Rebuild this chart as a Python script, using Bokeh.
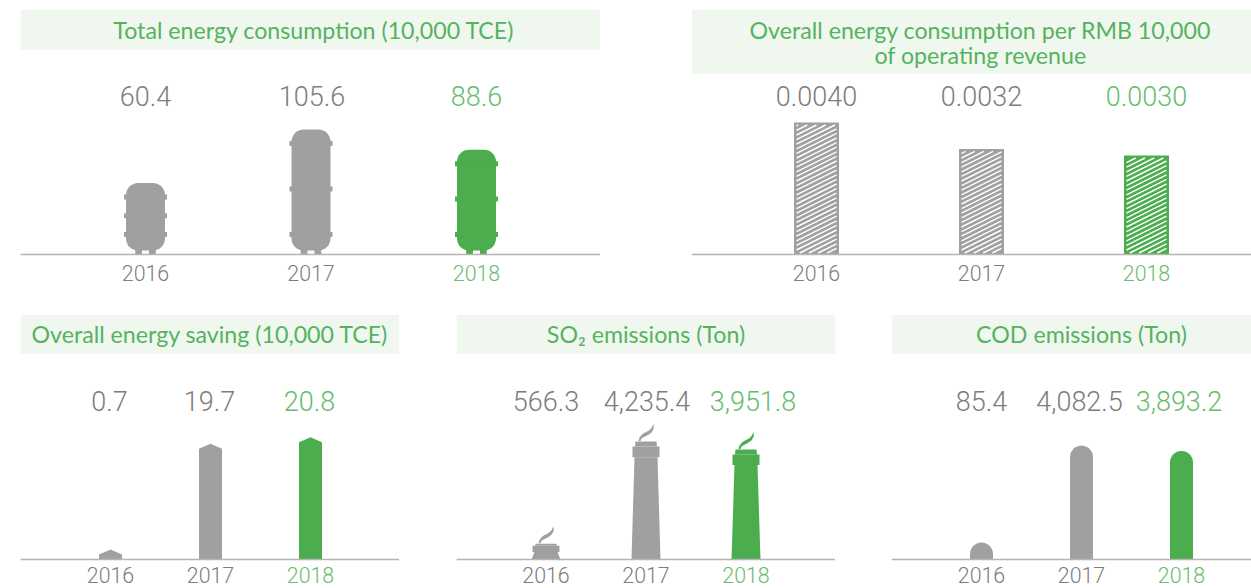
from math import cos, sin, pi
from bokeh.plotting import figure
from bokeh.layouts import column, row
from bokeh.models import Range1d, FixedTicker, LinearAxis
from bokeh.core.properties import value
from bokeh.embed import file_html
from bokeh.resources import INLINE

years = ["2016", "2017", "2018"]
total_energy = [60.4, 105.6, 88.6]
energy_per_revenue = [0.0040, 0.0032, 0.0030]
energy_saving = [0.7, 19.7, 20.8]
so2 = [566.3, 4235.4, 3951.8]
cod = [85.4, 4082.5, 3893.2]
total_labels = ["60.4", "105.6", "88.6"]
revenue_labels = ["0.0040", "0.0032", "0.0030"]
saving_labels = ["0.7", "19.7", "20.8"]
so2_labels = ["566.3", "4,235.4", "3,951.8"]
cod_labels = ["85.4", "4,082.5", "3,893.2"]

GRAY, GREEN = "#9fa09f", "#4bad4e"
VAL_GRAY, VAL_GREEN = "#7d7d7d", "#66bd6c"
BAND, TITLE_C, AXIS_C = "#eff7ee", "#55b35f", "#b4b4b4"
TXT_FONT, TITLE_FONT = "Roboto Light", "Lato"
COLORS = [GRAY, GRAY, GREEN]


def arc(cx, cy, r, a0, a1, n=8):
    return [(cx + r * cos(a0 + (a1 - a0) * i / n), cy + r * sin(a0 + (a1 - a0) * i / n)) for i in range(n + 1)]


def tank(h):
    w, r = 19.5, 12
    bottom = 4
    body = [(-w + r, bottom)]
    body += arc(-w + r, bottom + r, r, -pi / 2, -pi)
    body += arc(-w + r, h - r, r, pi, pi / 2)
    body += arc(w - r, h - r, r, pi / 2, 0)
    body += arc(w - r, bottom + r, r, 0, -pi / 2)
    parts = [body]
    for u in (20, (20 + h - 14) / 2, h - 14):
        parts.append([(-21.5, u - 2.5), (21.5, u - 2.5), (21.5, u + 2.5), (-21.5, u + 2.5)])
    for a, b in ((-10.3, -3.5), (3.5, 10.3)):
        parts.append([(a, 0), (b, 0), (b, 6), (a, 6)])
    return parts


def house(h):
    h = max(h, 10)
    return [[(-11.5, 0), (11.5, 0), (11.5, h - 5), (0, h), (-11.5, h - 5)]]


def dome(h):
    h = max(h, 17)
    r = 11.5
    return [[(-r, 0), (r, 0)] + arc(0, h - r, r, 0, pi, 14)]


def chimney(h):
    cap = min(5, h * 0.13)
    collar = min(10.7, h * 0.4)
    y1 = h - cap
    y2 = y1 - collar
    shaft = [(-14.5, 0), (14.5, 0), (11.5, y2), (-11.5, y2)]
    ring = [(-13.5, y2), (13.5, y2), (13.5, y1), (-13.5, y1)]
    top = [(-11, y1), (11, y1), (10.5, h), (-10.5, h)]
    smoke = [(-7.5, 0.5), (-6.5, 4), (-3.5, 7.5), (0, 9.5), (3, 11), (5.5, 13.5), (7.5, 17.5),
             (7.8, 13), (5.5, 9), (2.5, 6.8), (-1, 5), (-4.5, 3), (-5.5, 0.5)]
    return [shaft, ring, top, [(x, y + h) for x, y in smoke]]


def style_axis(ax, ticks, overrides, color, standoff, line):
    ax.fixed_location = 0
    ax.ticker = FixedTicker(ticks=ticks)
    ax.major_label_overrides = overrides
    ax.major_tick_line_color = None
    ax.minor_tick_line_color = None
    ax.major_tick_out = 0
    ax.major_tick_in = 0
    ax.axis_line_color = AXIS_C if line else None
    ax.axis_line_width = 1.5
    ax.major_label_text_color = color
    ax.major_label_text_font = TXT_FONT
    ax.major_label_text_font_size = "21.4px"
    ax.major_label_standoff = standoff


def make_panel(left, width, top, baseline, bottom_pad, band_bottom, centers, scale, values, labels,
               title_lines, title_x, title_ys, value_y, value_dx, tick_mid, shape=None, margin_left=0, margin_top=0):
    spacing = (centers[2] - centers[0]) / 2
    X = lambda px: (px - centers[0]) / spacing
    Y = lambda py: (baseline - py) / scale
    frame_h = baseline - top
    p = figure(width=width, height=frame_h + bottom_pad, output_backend="svg", toolbar_location=None,
               x_range=Range1d(X(left), X(left + width)), y_range=Range1d(-bottom_pad / scale, frame_h / scale),
               min_border_left=0, min_border_right=0, min_border_top=0, min_border_bottom=0,
               y_axis_location=None, outline_line_color=None, margin=(margin_top, 0, 0, margin_left))
    p.grid.visible = False
    p.background_fill_color = None
    p.border_fill_color = None
    style_axis(p.xaxis[0], [0, 1], {0: years[0], 1: years[1]}, VAL_GRAY, tick_mid - 12, True)
    green_axis = LinearAxis()
    style_axis(green_axis, [2], {2: years[2]}, VAL_GREEN, tick_mid - 12, False)
    p.add_layout(green_axis, "below")
    p.quad(left=[X(left)], right=[X(left + width)], top=[Y(top + 0.6)], bottom=[Y(band_bottom)],
           fill_color=BAND, line_color=None)
    p.text(x=[X(title_x)] * len(title_lines), y=[Y(y) for y in title_ys], text=title_lines, text_color=TITLE_C,
           text_font=value(TITLE_FONT), text_font_size="23.2px", text_align="center", text_baseline="middle")
    p.text(x=[i + d / spacing for i, d in enumerate(value_dx)], y=[Y(value_y)] * 3, text=labels,
           text_color=[VAL_GRAY, VAL_GRAY, VAL_GREEN], text_font=value(TXT_FONT), text_font_size="27px",
           text_align="center", text_baseline="middle")
    if shape is None:
        hatch_bars(p, values, spacing, scale)
    else:
        xs, ys, cs = [], [], []
        for i, v in enumerate(values):
            for part in shape(v * scale):
                xs.append([i + a / spacing for a, b in part])
                ys.append([b / scale for a, b in part])
                cs.append(COLORS[i])
        p.patches(xs, ys, fill_color=cs, line_color=None)
    return p


def hatch_bars(p, values, spacing, scale):
    half, inset, period, slope = 22.5, 2.5, 4.6, 0.5
    p.vbar(x=[0, 1, 2], top=values, width=2 * half / spacing, fill_color=COLORS, line_color=None, bottom=0)
    xs, ys = [], []
    for i, v in enumerate(values):
        h = v * scale
        x0, x1 = -half + inset, half - inset
        y0, y1 = inset - 1, h - inset
        k = y0 - (x1 - x0) * slope
        while k < y1:
            ax = x0 if k >= y0 else x0 + (y0 - k) / slope
            ay = k + slope * (ax - x0)
            bx = x1
            by = k + slope * (bx - x0)
            if by > y1:
                by = y1
                bx = x0 + (y1 - k) / slope
            xs.append([i + ax / spacing, i + bx / spacing])
            ys.append([ay / scale, by / scale])
            k += period
    p.multi_line(xs, ys, line_color="#ffffff", line_width=1.5)


p1 = make_panel(20, 580, 9, 254, 36, 49.6, [145, 310.5, 476], 1.183, total_energy, total_labels,
                ["Total energy consumption (10,000 TCE)"], 313.5, [29], 95.5, [0, 1, 0], 22, tank,
                margin_left=20, margin_top=9)
p2 = make_panel(691, 560, 9, 254, 36, 73.6, [816, 981, 1146], 33000, energy_per_revenue, revenue_labels,
                ["Overall energy consumption per RMB 10,000", "of operating revenue"], 980, [29, 54], 95.5,
                [0, 0, 0], 22, None, margin_left=91, margin_top=9)
p3 = make_panel(20, 379, 314, 559, 29, 353.6, [110, 210, 310], 5.88, energy_saving, saving_labels,
                ["Overall energy saving (10,000 TCE)"], 209.5, [333], 400.5, [-1, -1, -1], 19, house,
                margin_left=20, margin_top=24)
p4 = make_panel(456, 379, 314, 559, 29, 353.6, [545.5, 645.5, 745.5], 0.02786, so2, so2_labels,
                ["SO\u2082 emissions (Ton)"], 645.5, [333], 400.5, [0, 1, 7], 19, chimney,
                margin_left=57, margin_top=24)
p5 = make_panel(891, 360, 314, 559, 29, 353.6, [981, 1081, 1181], 0.0279, cod, cod_labels,
                ["COD emissions (Ton)"], 1081, [333], 400.5, [0, -2, -2.5], 19, dome,
                margin_left=56, margin_top=24)

page = column(row(p1, p2, spacing=0), row(p3, p4, p5, spacing=0), spacing=0)
page.styles = {"position": "absolute", "left": "0px", "top": "0px"}
open("out.html", "w").write(file_html(page, INLINE))
